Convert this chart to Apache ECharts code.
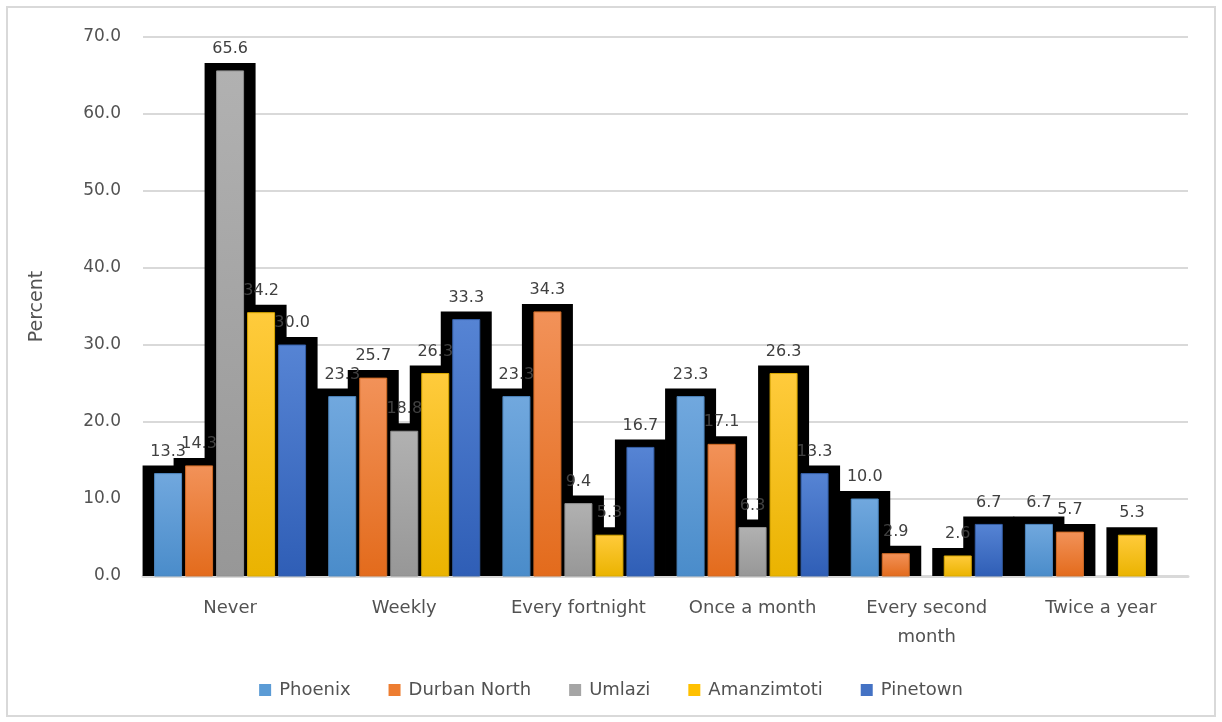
<!DOCTYPE html>
<html>
<head>
<meta charset="utf-8">
<title>Frequency by area</title>
<script src="https://cdn.jsdelivr.net/npm/echarts@6/dist/echarts.min.js"></script>
<style>
  html, body { margin: 0; padding: 0; background: #ffffff; }
  #chart { width: 1222px; height: 722px; }
</style>
</head>
<body>
<div id="chart"></div>
<script>
// Category labels (x axis) and per-area percentages
const categories = ['Never', 'Weekly', 'Every fortnight', 'Once a month', 'Every second\nmonth', 'Twice a year'];
const phoenix     = [13.3, 23.3, 23.3, 23.3, 10.0, 6.7];
const durbanNorth = [14.3, 25.7, 34.3, 17.1, 2.9, 5.7];
const umlazi      = [65.6, 18.8, 9.4, 6.3, null, null];
const amanzimtoti = [34.2, 26.3, 5.3, 26.3, 2.6, 5.3];
const pinetown    = [30.0, 33.3, 16.7, 13.3, 6.7, null];

// Y axis scale
const yMin = 0;
const yMax = 70;
const yStep = 10;

const FONT = '"DejaVu Sans", "Liberation Sans", sans-serif';
const TEXT_GREY = '#525252';

// Bar geometry, as fractions of one category band
const PITCH = 0.178;   // centre-to-centre distance between neighbouring bars
const WIDTH = 0.155;   // width of the coloured bar
const OUT_X = 12;      // black outline reach, sideways (px)
const OUT_Y = 8;       // black outline reach, above the bar (px)

const areas = [
  { name: 'Phoenix',      data: phoenix,     key: '#5b9bd5', top: '#71a8de', bottom: '#4a8cca', edge: '#4d86bd' },
  { name: 'Durban North', data: durbanNorth, key: '#ed7d31', top: '#f29259', bottom: '#e36b1c', edge: '#d06a24' },
  { name: 'Umlazi',       data: umlazi,      key: '#a5a5a5', top: '#b1b1b1', bottom: '#979797', edge: '#8f8f8f' },
  { name: 'Amanzimtoti',  data: amanzimtoti, key: '#ffc000', top: '#ffcb3c', bottom: '#eab300', edge: '#d9a800' },
  { name: 'Pinetown',     data: pinetown,    key: '#4472c4', top: '#5684d4', bottom: '#2f5eb6', edge: '#355fa8' }
];

function makeRenderer(slot, area) {
  const fill = new echarts.graphic.LinearGradient(0, 0, 0, 1, [
    { offset: 0, color: area.top },
    { offset: 1, color: area.bottom }
  ]);
  return function (params, api) {
    const v = api.value(1);
    if (v == null || isNaN(v)) return;
    const cat = api.value(0);
    const band = api.size([1, 0])[0];
    const w = band * WIDTH;
    const top = api.coord([cat, v]);
    const base = api.coord([cat, 0]);
    const cx = top[0] + (slot - 2) * band * PITCH;
    const x = cx - w / 2;
    const h = base[1] - top[1];
    return {
      type: 'group',
      children: [
        {
          type: 'rect', z2: 0,
          shape: { x: x - OUT_X, y: top[1] - OUT_Y, width: w + 2 * OUT_X, height: h + OUT_Y },
          style: { fill: '#000000' }
        },
        {
          type: 'rect', z2: 1,
          shape: { x: x, y: top[1], width: w, height: h },
          style: { fill: fill, stroke: area.edge, lineWidth: 1 }
        },
        {
          type: 'text', z2: 2,
          style: {
            text: v.toFixed(1), x: cx, y: top[1] - 22,
            align: 'center', verticalAlign: 'middle',
            fill: '#404040', fontSize: 16, fontFamily: FONT
          }
        }
      ]
    };
  };
}

const series = areas.map((a, slot) => ({
  name: a.name,
  type: 'custom',
  silent: true,
  itemStyle: { color: a.key },
  encode: { x: 0, y: 1 },
  data: a.data.map((v, i) => [i, v == null ? '-' : v]),
  renderItem: makeRenderer(slot, a)
}));

const chart = echarts.init(document.getElementById('chart'), null, { renderer: 'canvas' });
chart.setOption({
  animation: false,
  backgroundColor: '#ffffff',
  graphic: [{
    type: 'rect', silent: true, z: 0,
    shape: { x: 7, y: 7, width: 1208, height: 709 },
    style: { fill: 'none', stroke: '#d9d9d9', lineWidth: 2 }
  }],
  grid: { left: 143, right: 34, top: 37, bottom: 146 },
  legend: {
    data: areas.map(a => a.name),
    bottom: 18,
    left: 'center',
    icon: 'rect',
    itemWidth: 12,
    itemHeight: 12,
    itemGap: 38,
    textStyle: { color: TEXT_GREY, fontSize: 18, fontFamily: FONT, padding: [0, 0, 0, 3] }
  },
  xAxis: {
    type: 'category',
    data: categories,
    axisLine: { lineStyle: { color: '#d9d9d9', width: 3 } },
    axisTick: { show: false },
    axisLabel: {
      color: TEXT_GREY, fontSize: 18, fontFamily: FONT,
      margin: 18, lineHeight: 29, interval: 0
    }
  },
  yAxis: {
    type: 'value',
    min: yMin, max: yMax, interval: yStep,
    name: 'Percent',
    nameLocation: 'middle',
    nameGap: 96,
    nameRotate: 90,
    nameTextStyle: { color: TEXT_GREY, fontSize: 19, fontFamily: FONT },
    axisLine: { show: false },
    axisTick: { show: false },
    axisLabel: {
      color: TEXT_GREY, fontSize: 17, fontFamily: FONT, margin: 22,
      formatter: v => v.toFixed(1)
    },
    splitLine: { lineStyle: { color: '#d9d9d9', width: 2 } }
  },
  series: series
});
</script>
</body>
</html>
